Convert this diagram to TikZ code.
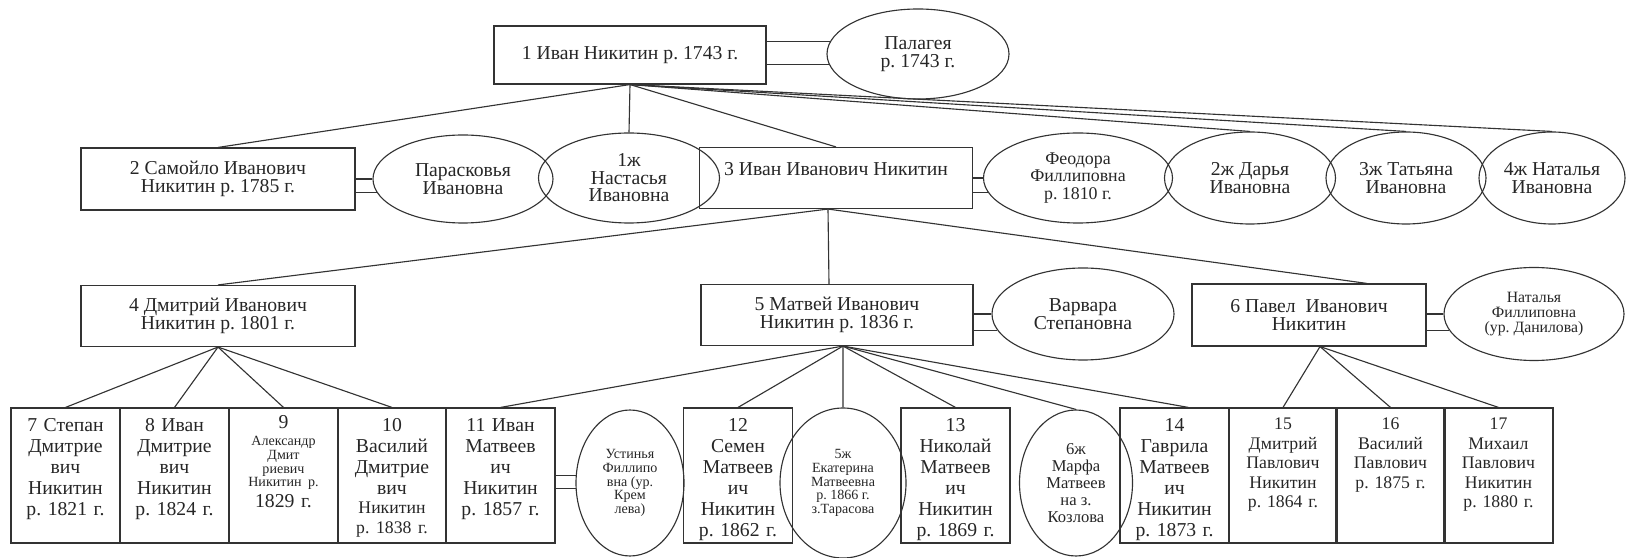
\documentclass[tikz,border=0pt]{standalone}
\usepackage{fontspec}
\setmainfont{Liberation Serif}
\usepackage{tikz}
\usetikzlibrary{shapes.geometric}

\frenchspacing
\setlength{\lineskiplimit}{-6pt}
\newcommand{\fbig}{\fontsize{14}{12.4}\selectfont}
\newcommand{\fwife}{\fontsize{12.7}{12.4}\selectfont}
\newcommand{\fkid}{\fontsize{14}{14.8}\selectfont}
\newcommand{\fmd}{\fontsize{12.6}{13.8}\selectfont}
\newcommand{\fsm}{\fontsize{11.2}{10.8}\selectfont}
\newcommand{\fmf}{\fontsize{11.8}{12}\selectfont}
\newcommand{\ftn}{\fontsize{10}{9.7}\selectfont}

\begin{document}
\begin{tikzpicture}[x=0.25mm, y=-0.25mm]
\tikzstyle{parent} = [rectangle, draw=black!80, line width=0.8pt, align=center, inner sep=0pt, font=\fbig, text=black!85]
\tikzstyle{wife} = [ellipse, draw=black!80, line width=0.8pt, align=center, inner sep=0pt, font=\fbig, text=black!85]
\tikzstyle{child} = [rectangle, draw=black!80, line width=0.8pt, align=center, inner sep=0pt, text width=27.25mm, text height=6mm, text depth=27.75mm, font=\fkid, text=black!85]
\tikzstyle{link} = [draw=black!80, line width=0.8pt]

\useasboundingbox (0,0) rectangle (1626,558);

% 1st generation
\node (ivan) [parent, minimum width=68mm, minimum height=14.5mm] at (630,55) {1 Иван Никитин р. 1743 г.};
\node (palageya) [wife, minimum width=45.5mm, minimum height=22.5mm] at (918,54) {Палагея\\р. 1743 г.};

% 2nd generation
\node (samoylo) [parent, minimum width=68.5mm, minimum height=15.5mm] at (218,179) {2 Самойло Иванович\\Никитин р. 1785 г.};
\node (paraskovya) [wife, minimum width=45mm, minimum height=22mm] at (463,179) {Парасковья\\Ивановна};
\node (nastasya) [wife, minimum width=45.25mm, minimum height=22.5mm] at (629,178) {1ж\\Настасья\\Ивановна};
\node (ivanIv) [parent, minimum width=68.25mm, minimum height=15.25mm] at (836,178) {3 Иван Иванович Никитин\\~};
\node (feodora) [wife, font=\fwife, minimum width=47.25mm, minimum height=22.5mm] at (1078,178) {Феодора\\Филлиповна\\р. 1810 г.};
\node (darya) [wife, minimum width=42.75mm, minimum height=23mm] at (1250,178) {2ж Дарья\\Ивановна};
\node (tatyana) [wife, minimum width=40mm, minimum height=23mm] at (1406,178) {3ж Татьяна\\Ивановна};
\node (natalyaIv) [wife, minimum width=36.5mm, minimum height=23mm] at (1552,178) {4ж Наталья\\Ивановна};

% 3rd generation
\node (dmitriy) [parent, minimum width=68.5mm, minimum height=15.25mm] at (218,316) {4 Дмитрий Иванович\\Никитин р. 1801 г.};
\node (matvey) [parent, minimum width=68mm, minimum height=15.25mm] at (837,315) {5 Матвей Иванович\\Никитин р. 1836 г.};
\node (varvara) [wife, minimum width=45.5mm, minimum height=23mm] at (1083,314) {Варвара\\Степановна};
\node (pavel) [parent, minimum width=58.5mm, minimum height=15.5mm] at (1309,315) {6 Павел~ Иванович\\Никитин};
\node (natalyaF) [wife, font=\fsm, minimum width=45mm, minimum height=23.25mm] at (1534,314) {Наталья\\Филлиповна\\(ур. Данилова)};

% 4th generation
\node (stepan) [child] at (65.5,475.5) {7 Степан\\Дмитрие\\вич\\Никитин\\р. 1821 г.};
\node (ivanD) [child] at (174.5,475.5) {8 Иван\\Дмитрие\\вич\\Никитин\\р. 1824 г.};
\node (aleksandr) [child, text height=5.2mm, text depth=28.55mm] at (283.5,475.5) {9\par\vspace{2.5pt}{\ftn Александр\\Дмит\\риевич\\Никитин р.\par}1829 г.};
\node (vasiliyD) [child] at (392,475.5) {10\\Василий\\Дмитрие\\вич\par{\fmd Никитин\\р. 1838 г.\par}};
\node (ivanM) [child] at (500.5,475.5) {11 Иван\\Матвеев\\ич\\Никитин\\р. 1857 г.};
\node (ustinya) [wife, font=\ftn, minimum width=27mm, minimum height=36.5mm] at (630,483) {Устинья\\Филлипо\\вна (ур.\\Крем\\лева)};
\node (semen) [child] at (738,475.5) {12\\Семен\\Матвеев\\ич\\Никитин\\р. 1862 г.};
\node (ekaterina) [wife, font=\ftn, minimum width=31.5mm, minimum height=37.5mm] at (843,483) {5ж\\Екатерина\\Матвеевна\\р. 1866 г.\\з.Тарасова};
\node (nikolay) [child] at (955.5,475.5) {13\\Николай\\Матвеев\\ич\\Никитин\\р. 1869 г.};
\node (marfa) [wife, font=\fmf, minimum width=28.25mm, minimum height=36.5mm] at (1076,483) {6ж\\Марфа\\Матвеев\\на з.\\Козлова};
\node (gavrila) [child] at (1174.5,475.5) {14\\Гаврила\\Матвеев\\ич\\Никитин\\р. 1873 г.};
\node (dmitriyP) [child, font=\fmd, text height=5.5mm, text depth=28.25mm] at (1283,475.5) {15\\Дмитрий\\Павлович\\Никитин\\р. 1864 г.};
\node (vasiliyP) [child, font=\fmd, text height=5.5mm, text depth=28.25mm] at (1390.5,475.5) {16\\Василий\\Павлович\\р. 1875 г.};
\node (mikhail) [child, font=\fmd, text height=5.5mm, text depth=28.25mm] at (1498.5,475.5) {17\\Михаил\\Павлович\\Никитин\\р. 1880 г.};

% marriages
\draw [link] (ivan.east |- palageya.172) -- (palageya.172);
\draw [link] (ivan.east |- palageya.187) -- (palageya.187);
\draw [link] (samoylo.east |- paraskovya.180) -- (paraskovya.180);
\draw [link] (samoylo.east |- paraskovya.189) -- (paraskovya.189);
\draw [link] (ivanIv.east |- feodora.180) -- (feodora.180);
\draw [link] (ivanIv.east |- feodora.189) -- (feodora.189);
\draw [link] (matvey.east |- varvara.180) -- (varvara.180);
\draw [link] (matvey.east |- varvara.191) -- (varvara.191);
\draw [link] (pavel.east |- natalyaF.180) -- (natalyaF.180);
\draw [link] (pavel.east |- natalyaF.191) -- (natalyaF.191);
\draw [link] (ivanM.east |- ustinya.172) -- (ustinya.172);
\draw [link] (ivanM.east |- ustinya.186) -- (ustinya.186);

% children of 1
\draw [link] (ivan.south) -- (samoylo.north);
\draw [link] (ivan.south) -- (nastasya.north);
\draw [link] (ivan.south) -- (ivanIv.north);
\draw [link] (ivan.south) -- (darya.north);
\draw [link] (ivan.south) -- (tatyana.north);
\draw [link] (ivan.south) -- (natalyaIv.north);

% children of 3
\draw [link] ([xshift=-2mm]ivanIv.south) -- (dmitriy.north);
\draw [link] ([xshift=-2mm]ivanIv.south) -- ([xshift=-2mm]matvey.north);
\draw [link] ([xshift=-2mm]ivanIv.south) -- ([xshift=14.5mm]pavel.north);

% children of 4
\draw [link] (dmitriy.south) -- (stepan.north);
\draw [link] (dmitriy.south) -- (ivanD.north);
\draw [link] (dmitriy.south) -- (aleksandr.north);
\draw [link] (dmitriy.south) -- (vasiliyD.north);

% children of 5
\draw [link] ([xshift=1.5mm]matvey.south) -- (ivanM.north);
\draw [link] ([xshift=1.5mm]matvey.south) -- (semen.north);
\draw [link] ([xshift=1.5mm]matvey.south) -- (ekaterina.north);
\draw [link] ([xshift=1.5mm]matvey.south) -- (nikolay.north);
\draw [link] ([xshift=1.5mm]matvey.south) -- (marfa.north);
\draw [link] ([xshift=1.5mm]matvey.south) -- ([xshift=3.5mm]gavrila.north);

% children of 6
\draw [link] ([xshift=2.75mm]pavel.south) -- (dmitriyP.north);
\draw [link] ([xshift=2.75mm]pavel.south) -- (vasiliyP.north);
\draw [link] ([xshift=2.75mm]pavel.south) -- (mikhail.north);

\end{tikzpicture}
\end{document}
